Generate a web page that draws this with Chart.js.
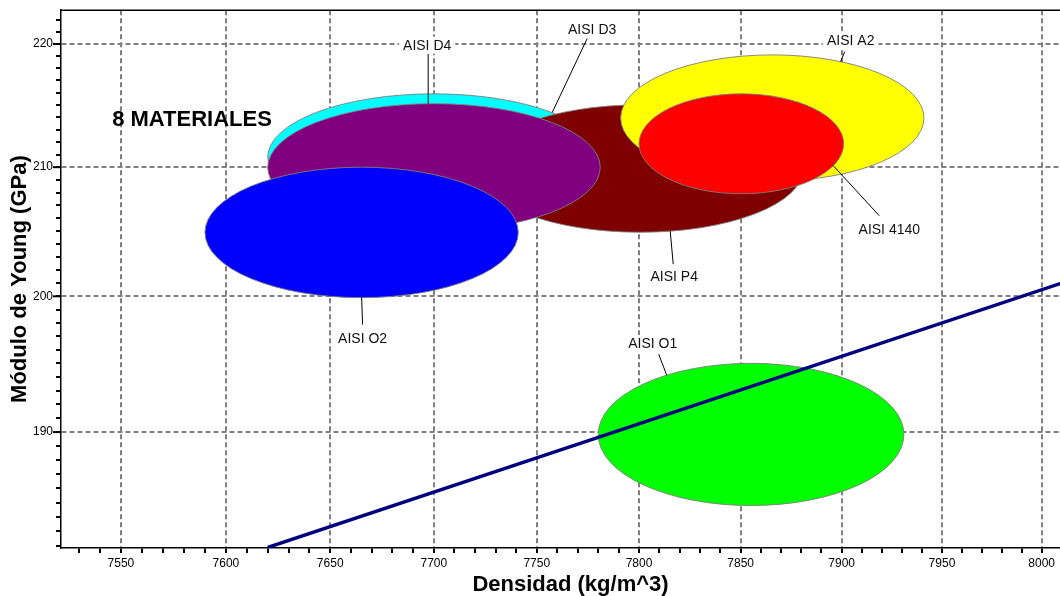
<!DOCTYPE html>
<html>
<head>
<meta charset="utf-8">
<title>Módulo de Young vs Densidad</title>
<script src="https://cdn.jsdelivr.net/npm/chart.js@4.4.0/dist/chart.umd.min.js"></script>
<style>
  html, body { margin: 0; padding: 0; background: #fff; overflow: hidden; }
  #wrap { width: 1060px; height: 596px; overflow: hidden; }
  canvas { display: block; }
</style>
</head>
<body>
<div id="wrap"><canvas id="ashby" width="1080" height="596"></canvas></div>
<script>
// property bubbles, drawn back to front
const materials   = ['AISI D3', 'AISI P4', 'AISI D4', 'AISI O2', 'AISI A2', 'AISI 4140', 'AISI O1'];
const densityLow  = [7620, 7721, 7620, 7590, 7791, 7800, 7780];   // kg/m^3
const densityHigh = [7781, 7881, 7781, 7741, 7941, 7901, 7931];
const modulusLow  = [205.8, 204.9, 205.0, 199.9, 208.9, 207.9, 184.8]; // GPa
const modulusHigh = [215.9, 215.0, 215.1, 210.0, 219.1, 215.9, 195.0];
const fills = ['#00ffff', '#7f0000', '#800080', '#0000ff', '#ffff00', '#ff0000', '#00ff00'];

// selection guide line E^(1/2)/rho = const
const guideDensity = [7620, 8020];
const guideModulus = [181.9, 201.5];

// axis ranges and labelled ticks
const xMin = 7521.6, xMax = 8019.3;
const yMin = 181.86, yMax = 222.83;
const xMajor = [7550, 7600, 7650, 7700, 7750, 7800, 7850, 7900, 7950, 8000];
const yMajor = [190, 200, 210, 220];

const xTicks = [];
for (let v = 7530; v <= 8010; v += 10) xTicks.push(v);
const yTicks = [];
for (let v = 182; v <= 222; v += 1) yTicks.push(v);

// leader lines: angle on the ellipse (deg), line end and text baseline offsets in px
const callouts = [
  { angle: 44.7,  end: [35, -74],  text: [40, -79] },
  { angle: -79.4, end: [3, 33],    text: [4, 50] },
  { angle: 92,    end: [0, -50],   text: [-1, -54] },
  { angle: -90,   end: [1, 27],    text: [1, 45] },
  { angle: 63.2,  end: [4, -10],   text: [10, -17] },
  { angle: -26,   end: [46, 50],   text: [56, 68] },
  { angle: 123.5, end: [-8, -21],  text: [-14, -27] }
];

const FONT = '"Liberation Sans", Arial, Helvetica, sans-serif';
Chart.defaults.font.family = FONT;

function ellipseBox(chart, i) {
  const xs = chart.scales.x, ys = chart.scales.y;
  const x1 = xs.getPixelForValue(densityLow[i]);
  const x2 = xs.getPixelForValue(densityHigh[i]);
  const y1 = ys.getPixelForValue(modulusHigh[i]);
  const y2 = ys.getPixelForValue(modulusLow[i]);
  return { cx: (x1 + x2) / 2, cy: (y1 + y2) / 2, rx: (x2 - x1) / 2, ry: (y2 - y1) / 2 };
}

const bubbles = {
  id: 'bubbles',
  beforeDatasetsDraw(chart) {
    const ctx = chart.ctx, a = chart.chartArea;
    ctx.save();
    ctx.beginPath();
    ctx.rect(a.left, a.top, a.right - a.left, a.bottom - a.top);
    ctx.clip();
    materials.forEach((m, i) => {
      const e = ellipseBox(chart, i);
      ctx.beginPath();
      ctx.ellipse(e.cx, e.cy, e.rx, e.ry, 0, 0, Math.PI * 2);
      ctx.fillStyle = fills[i];
      ctx.fill();
      ctx.lineWidth = 1;
      ctx.strokeStyle = 'rgba(125,125,125,0.9)';
      ctx.stroke();
    });
    ctx.restore();
  },
  afterDatasetsDraw(chart) {
    const ctx = chart.ctx, a = chart.chartArea;
    const ys = chart.scales.y;
    ctx.save();
    // frame line along the top
    ctx.strokeStyle = '#000';
    ctx.lineWidth = 1.5;
    ctx.beginPath();
    ctx.moveTo(a.left, a.top);
    ctx.lineTo(a.right, a.top);
    ctx.stroke();

    // longer marks for the labelled modulus ticks
    ctx.lineWidth = 2;
    yMajor.forEach(v => {
      const y = ys.getPixelForValue(v);
      ctx.beginPath();
      ctx.moveTo(a.left - 8, y);
      ctx.lineTo(a.left, y);
      ctx.stroke();
    });

    ctx.font = '14px ' + FONT;
    ctx.textAlign = 'center';
    ctx.textBaseline = 'alphabetic';
    materials.forEach((m, i) => {
      const e = ellipseBox(chart, i);
      const c = callouts[i];
      const t = c.angle * Math.PI / 180;
      const px = e.cx + e.rx * Math.cos(t);
      const py = e.cy - e.ry * Math.sin(t);
      ctx.strokeStyle = '#000';
      ctx.lineWidth = 1;
      ctx.beginPath();
      ctx.moveTo(px, py);
      ctx.lineTo(px + c.end[0], py + c.end[1]);
      ctx.stroke();
      const tx = px + c.text[0], ty = py + c.text[1];
      const w = ctx.measureText(m).width;
      ctx.fillStyle = '#fff';
      ctx.fillRect(tx - w / 2 - 4, ty - 13, w + 8, 17);
      ctx.fillStyle = '#111';
      ctx.fillText(m, tx, ty);
    });

    ctx.font = 'bold 22px ' + FONT;
    ctx.fillStyle = '#000';
    ctx.fillText('8 MATERIALES', a.left + 131, a.top + 116);
    ctx.restore();
  }
};

const gridColor = (major) => (ctx) =>
  ctx.tick && major.includes(ctx.tick.value) ? '#808080' : 'rgba(0,0,0,0)';

new Chart(document.getElementById('ashby'), {
  type: 'scatter',
  data: {
    datasets: [{
      data: guideDensity.map((d, i) => ({ x: d, y: guideModulus[i] })),
      showLine: true,
      borderColor: '#000080',
      borderWidth: 3.5,
      pointRadius: 0,
      fill: false
    }]
  },
  options: {
    responsive: false,
    animation: false,
    layout: { padding: { top: 8, left: 0, right: 0, bottom: 0 } },
    plugins: { legend: { display: false }, tooltip: { enabled: false } },
    scales: {
      x: {
        type: 'logarithmic',
        position: 'bottom',
        bounds: 'data',
        min: xMin,
        max: xMax,
        afterBuildTicks: s => { s.ticks = xTicks.map(v => ({ value: v })); },
        ticks: {
          autoSkip: false,
          maxRotation: 0,
          padding: 3,
          color: '#000',
          font: { size: 12 },
          callback: v => xMajor.includes(v) ? String(v) : ''
        },
        grid: {
          color: gridColor(xMajor),
          lineWidth: 2,
          tickColor: '#000',
          tickWidth: 2,
          tickLength: 5
        },
        border: { display: true, color: '#000', width: 1.5, dash: [5, 3] },
        title: {
          display: true,
          text: 'Densidad (kg/m^3)',
          color: '#000',
          font: { size: 22, weight: 'bold', lineHeight: 1 },
          padding: 0
        },
        afterFit: s => { s.height = 48; }
      },
      y: {
        type: 'logarithmic',
        position: 'left',
        bounds: 'data',
        min: yMin,
        max: yMax,
        afterBuildTicks: s => { s.ticks = yTicks.map(v => ({ value: v })); },
        ticks: {
          autoSkip: false,
          padding: 3,
          color: '#000',
          font: { size: 12 },
          callback: v => yMajor.includes(v) ? String(v) : ''
        },
        grid: {
          color: gridColor(yMajor),
          lineWidth: 2,
          tickColor: '#000',
          tickWidth: 2,
          tickLength: 5
        },
        border: { display: true, color: '#000', width: 1.5, dash: [5, 3] },
        title: {
          display: true,
          text: 'Módulo de Young (GPa)',
          color: '#000',
          font: { size: 22, weight: 'bold', lineHeight: 1 },
          padding: { top: 9, bottom: 0 }
        },
        afterFit: s => { s.width = 61; }
      }
    }
  },
  plugins: [bubbles]
});
</script>
</body>
</html>
